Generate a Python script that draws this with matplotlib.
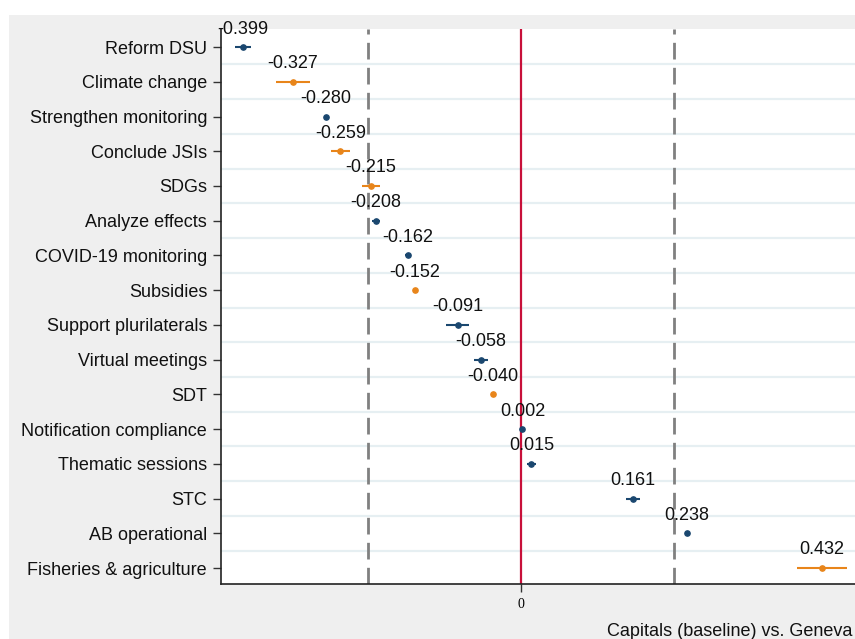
import matplotlib
matplotlib.use("Agg")
import matplotlib.pyplot as plt
from matplotlib.patches import Rectangle

plt.rcParams['font.family'] = ['Liberation Sans', 'DejaVu Sans']

# coefficient estimates, capitals (baseline) vs. Geneva
topics = ["Reform DSU", "Climate change", "Strengthen monitoring", "Conclude JSIs",
          "SDGs", "Analyze effects", "COVID-19 monitoring", "Subsidies",
          "Support plurilaterals", "Virtual meetings", "SDT", "Notification compliance",
          "Thematic sessions", "STC", "AB operational", "Fisheries & agriculture"]
coefs = [-0.399, -0.327, -0.280, -0.259, -0.215, -0.208, -0.162, -0.152,
         -0.091, -0.058, -0.040, 0.002, 0.015, 0.161, 0.238, 0.432]
ci_half = [0.011, 0.024, 0.002, 0.014, 0.013, 0.006, 0.004, 0.003,
           0.017, 0.010, 0.003, 0.003, 0.006, 0.010, 0.003, 0.036]
group = ["a", "b", "a", "b", "b", "a", "a", "b",
         "a", "a", "b", "a", "a", "a", "a", "b"]
ref_lines = [-0.219, 0.219]

colors = {"a": "#1a476f", "b": "#e8851a"}

W, H = 855, 639
fig = plt.figure(figsize=(W / 100, H / 100), dpi=100, facecolor="#efefef")
# white strips at top and left (crop of the original graph region)
fig.patches.append(Rectangle((0, 1 - 15 / H), 1, 15 / H, transform=fig.transFigure,
                             facecolor="white", edgecolor="none", zorder=0))
fig.patches.append(Rectangle((0, 0), 9 / W, 1, transform=fig.transFigure,
                             facecolor="white", edgecolor="none", zorder=0))

left, right, top, bottom = 221, 940, 29, 584
ax = fig.add_axes([left / W, 1 - bottom / H, (right - left) / W, (bottom - top) / H])
ax.set_facecolor("white")

n = len(topics)
ys = list(range(n))
ax.set_ylim(n - 1 + 0.46, -0.52)
scale = 697.0
ax.set_xlim((left - 521) / scale, (right - 521) / scale)

# gridlines between categories
for i in range(n - 1):
    ax.axhline(i + 0.5, color="#e6eff2", lw=1.6, zorder=1)

for xv in ref_lines:
    ax.axvline(xv, color="#808080", lw=2, ls=(0, (6, 3)), zorder=2)
ax.axvline(0, color="#c8103a", lw=1.6, zorder=2)

for y, c, h, g in zip(ys, coefs, ci_half, group):
    col = colors[g]
    ax.plot([c - h, c + h], [y, y], color=col, lw=1.5, zorder=3, solid_capstyle="butt")
    ax.plot(c, y, "o", color=col, ms=3.8, zorder=4)
    ax.annotate(f"{c:.3f}", (c, y), xytext=(0, 13), textcoords="offset points",
                ha="center", va="center", fontsize=13, color="#111111", zorder=5)

ax.set_yticks(ys)
ax.set_yticklabels(topics, fontsize=13, color="#111111")
ax.set_xticks([0])
ax.set_xticklabels(["0"], fontsize=10, family="Liberation Serif")
ax.tick_params(axis="y", length=6, width=1, color="#333333", pad=4)
ax.tick_params(axis="x", length=6, width=1, color="#333333", pad=4)

for s in ["top", "right"]:
    ax.spines[s].set_visible(False)
for s in ["left", "bottom"]:
    ax.spines[s].set_color("#222222")
    ax.spines[s].set_linewidth(1.2)

fig.text(607 / W, 1 - 631 / H, "Capitals (baseline) vs. Geneva", ha="left", va="center",
         fontsize=13, color="#111111")

fig.savefig("out.png", dpi=100, facecolor=fig.get_facecolor())
